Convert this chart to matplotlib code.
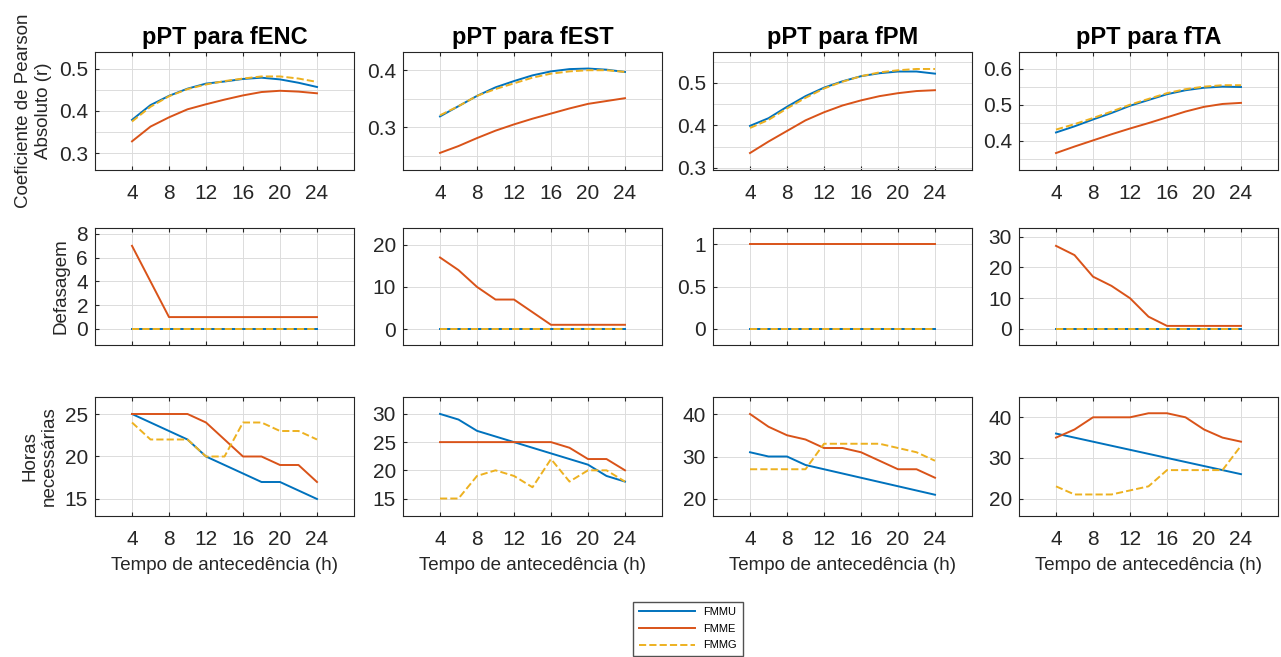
import numpy as np
import matplotlib.pyplot as plt
from matplotlib.ticker import MultipleLocator, FormatStrFormatter

plt.rcParams['font.family'] = ['Liberation Sans', 'DejaVu Sans']

# tempo de antecedencia (h)
lead = [4, 6, 8, 10, 12, 14, 16, 18, 20, 22, 24]
titles = ['pPT para fENC', 'pPT para fEST', 'pPT para fPM', 'pPT para fTA']
names = ['FMMU', 'FMME', 'FMMG']

# coeficiente de Pearson absoluto
r_fmmu = [[0.379, 0.414, 0.436, 0.453, 0.465, 0.470, 0.476, 0.479, 0.475, 0.467, 0.457],
          [0.319, 0.337, 0.355, 0.370, 0.381, 0.391, 0.398, 0.402, 0.403, 0.401, 0.397],
          [0.399, 0.417, 0.444, 0.469, 0.489, 0.504, 0.516, 0.523, 0.527, 0.527, 0.522],
          [0.423, 0.440, 0.459, 0.477, 0.497, 0.513, 0.529, 0.540, 0.547, 0.550, 0.549]]
r_fmme = [[0.328, 0.363, 0.385, 0.404, 0.416, 0.427, 0.437, 0.445, 0.448, 0.446, 0.442],
          [0.255, 0.267, 0.281, 0.294, 0.305, 0.315, 0.324, 0.333, 0.341, 0.346, 0.351],
          [0.335, 0.362, 0.387, 0.412, 0.431, 0.447, 0.459, 0.469, 0.476, 0.481, 0.483],
          [0.366, 0.384, 0.401, 0.418, 0.434, 0.449, 0.465, 0.481, 0.494, 0.502, 0.505]]
r_fmmg = [[0.375, 0.410, 0.435, 0.452, 0.463, 0.471, 0.477, 0.482, 0.482, 0.477, 0.469],
          [0.321, 0.337, 0.355, 0.367, 0.377, 0.387, 0.394, 0.398, 0.400, 0.400, 0.397],
          [0.394, 0.413, 0.440, 0.465, 0.487, 0.503, 0.516, 0.525, 0.530, 0.533, 0.533],
          [0.431, 0.446, 0.463, 0.481, 0.500, 0.516, 0.532, 0.543, 0.550, 0.554, 0.554]]

# defasagem
d_fmmu = [[0] * 11, [0] * 11, [0] * 11, [0] * 11]
d_fmme = [[7, 4, 1, 1, 1, 1, 1, 1, 1, 1, 1],
          [17, 14, 10, 7, 7, 4, 1, 1, 1, 1, 1],
          [1, 1, 1, 1, 1, 1, 1, 1, 1, 1, 1],
          [27, 24, 17, 14, 10, 4, 1, 1, 1, 1, 1]]
d_fmmg = [[0] * 11, [0] * 11, [0] * 11, [0] * 11]

# horas necessarias
h_fmmu = [[25, 24, 23, 22, 20, 19, 18, 17, 17, 16, 15],
          [30, 29, 27, 26, 25, 24, 23, 22, 21, 19, 18],
          [31, 30, 30, 28, 27, 26, 25, 24, 23, 22, 21],
          [36, 35, 34, 33, 32, 31, 30, 29, 28, 27, 26]]
h_fmme = [[25, 25, 25, 25, 24, 22, 20, 20, 19, 19, 17],
          [25, 25, 25, 25, 25, 25, 25, 24, 22, 22, 20],
          [40, 37, 35, 34, 32, 32, 31, 29, 27, 27, 25],
          [35, 37, 40, 40, 40, 41, 41, 40, 37, 35, 34]]
h_fmmg = [[24, 22, 22, 22, 20, 20, 24, 24, 23, 23, 22],
          [15, 15, 19, 20, 19, 17, 22, 18, 20, 20, 18],
          [27, 27, 27, 27, 33, 33, 33, 33, 32, 31, 29],
          [23, 21, 21, 21, 22, 23, 27, 27, 27, 27, 33]]

colors = ['#0072BD', '#D95319', '#EDB120']
styles = ['-', '-', '--']

W, H = 1281, 657
fig = plt.figure(figsize=(W / 100, H / 100), dpi=100)

col_left = [95, 403, 713, 1019]
col_w = 259
rows = [(52, 170), (228, 345), (397, 516)]

ylims = [[(0.26, 0.54), (0.225, 0.432), (0.295, 0.573), (0.319, 0.646)],
         [(-1.35, 8.5), (-3.8, 24), (-0.19, 1.19), (-5.2, 32.8)],
         [(13, 27), (11.9, 33), (16, 44), (15.7, 45)]]
yticks = [[[0.3, 0.4, 0.5], [0.3, 0.4], [0.3, 0.4, 0.5], [0.4, 0.5, 0.6]],
          [[0, 2, 4, 6, 8], [0, 10, 20], [0, 0.5, 1], [0, 10, 20, 30]],
          [[15, 20, 25], [15, 20, 25, 30], [20, 30, 40], [20, 30, 40]]]
ylabels = ['Coeficiente de Pearson\nAbsoluto (r)', 'Defasagem', 'Horas\nnecessárias']

data = [(r_fmmu, r_fmme, r_fmmg), (d_fmmu, d_fmme, d_fmmg), (h_fmmu, h_fmme, h_fmmg)]

handles = None
for i, (top, bot) in enumerate(rows):
    for j in range(4):
        ax = fig.add_axes([col_left[j] / W, 1 - bot / H, col_w / W, (bot - top) / H])
        hs = []
        for k in range(3):
            ln, = ax.plot(lead, data[i][k][j], color=colors[k], ls=styles[k], lw=1.4,
                          label=names[k])
            hs.append(ln)
        handles = hs
        ax.set_xlim(0, 28)
        ax.set_ylim(*ylims[i][j])
        ax.set_xticks([4, 8, 12, 16, 20, 24])
        ax.set_yticks(yticks[i][j])
        ax.yaxis.set_major_formatter(FormatStrFormatter('%g'))
        if i == 0:
            ax.yaxis.set_minor_locator(MultipleLocator(0.05))
            ax.grid(True, which='minor', axis='y', color='#dcdcdc', lw=0.7)
            ax.tick_params(which='minor', length=0)
        if i == 1:
            ax.set_xticklabels([])
        ax.grid(True, color='#dcdcdc', lw=0.7)
        ax.set_axisbelow(True)
        ax.tick_params(direction='in', length=3, labelsize=15, colors='#262626',
                       top=True, right=False, pad=5)
        ax.tick_params(axis='x', pad=10)
        for s in ax.spines.values():
            s.set_color('#262626')
            s.set_linewidth(0.8)
        if i == 0:
            ax.set_title(titles[j], fontsize=17, fontweight='bold', pad=6)
        if i == 2:
            ax.set_xlabel('Tempo de antecedência (h)', fontsize=13.5, color='#262626',
                          labelpad=6)
        if j == 0:
            ax.set_ylabel(ylabels[i], fontsize=13.5, color='#262626', labelpad=5)

fig.legend(handles, names, loc='upper center', bbox_to_anchor=(688 / W, 1 - 596 / H),
           fontsize=8, frameon=True, fancybox=False, edgecolor='#262626',
           handlelength=5, borderpad=0.5, labelspacing=0.6)

fig.savefig('out.png', dpi=100, facecolor='white')
